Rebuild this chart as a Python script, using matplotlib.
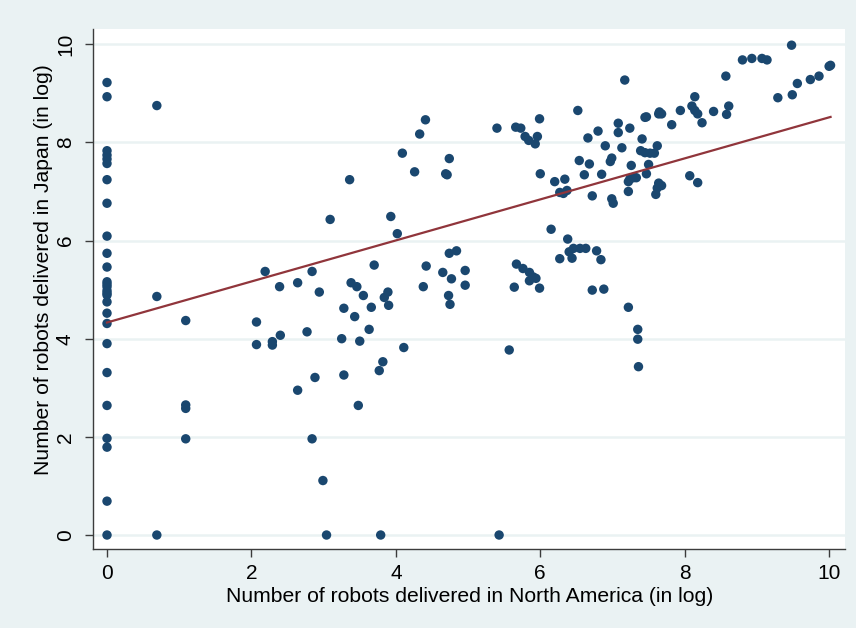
import matplotlib
matplotlib.use('Agg')
import matplotlib.pyplot as plt
import numpy as np

plt.rcParams['font.family'] = ['Liberation Sans', 'DejaVu Sans']

# log robots delivered: North America (x) vs Japan (y)
na_log = [
    0, 0, 0, 0, 0, 0, 0, 0, 0, 0, 0, 0, 0, 0, 0, 0, 0, 0, 0, 0, 0, 0, 0, 0, 0, 0, 0,
    0.69, 0.69, 0.69,
    1.09, 1.09, 1.09, 1.09,
    2.07, 2.07, 2.19, 2.39, 2.29, 2.29, 2.40, 2.64, 2.64, 2.77, 2.84, 2.84,
    2.94, 2.88, 2.99, 3.04, 3.09, 3.36, 3.28, 3.43, 3.25, 3.28, 3.50, 3.48,
    3.38, 3.46, 3.55, 3.66, 3.70, 3.84, 3.89, 3.90, 3.63, 3.93, 4.02, 4.09,
    4.11, 3.82, 3.77, 3.79, 4.26, 4.33, 4.41, 4.38, 4.42, 4.65, 4.69, 4.71,
    4.74, 4.77, 4.73, 4.75, 4.74, 4.84, 4.96, 4.96,
    5.40, 5.43, 5.57, 5.64, 5.66, 5.73, 5.67, 5.76, 5.85, 5.90, 5.94, 5.85,
    5.79, 5.84, 5.93, 5.96, 5.99, 5.99, 6.00, 6.15, 6.20, 6.34, 6.27, 6.32,
    6.37, 6.27, 6.38, 6.40, 6.44, 6.46, 6.55, 6.63, 6.52, 6.54, 6.66, 6.68,
    6.61, 6.72, 6.72, 6.80, 6.78, 6.84, 6.88, 6.85, 6.90, 6.97, 6.99, 6.99,
    7.01, 7.08, 7.08, 7.13, 7.17, 7.24, 7.26, 7.22, 7.24, 7.29, 7.33, 7.22,
    7.22, 7.35, 7.35, 7.36, 7.41, 7.39, 7.45, 7.52, 7.58, 7.62, 7.45, 7.47,
    7.50, 7.47, 7.64, 7.68, 7.65, 7.64, 7.68, 7.62, 7.60, 7.82, 7.94, 8.07,
    8.18, 8.10, 8.14, 8.18, 8.14, 8.24, 8.40, 8.58, 8.61, 8.57, 8.80, 8.93,
    9.07, 9.14, 9.29, 9.48, 9.49, 9.56, 9.74, 9.86, 10.0, 10.02,
]
jp_log = [
    9.22, 8.93, 7.83, 7.74, 7.66, 7.57, 7.24, 6.76, 6.09, 5.74, 5.46, 5.16,
    5.11, 5.06, 4.98, 4.93, 4.89, 4.75, 4.52, 4.31, 3.90, 3.31, 2.64, 1.97,
    1.79, 0.69, 0,
    8.75, 4.86, 0,
    4.37, 2.65, 2.58, 1.96,
    4.34, 3.88, 5.37, 5.06, 3.94, 3.87, 4.07, 5.14, 2.95, 4.14, 5.37, 1.96,
    4.95, 3.21, 1.11, 0, 6.43, 7.24, 4.62, 4.45, 4.00, 3.26, 3.95, 2.64,
    5.14, 5.06, 4.88, 4.64, 5.50, 4.84, 4.95, 4.68, 4.19, 6.49, 6.14, 7.78,
    3.82, 3.53, 3.35, 0, 7.40, 8.17, 8.46, 5.06, 5.48, 5.35, 7.36, 7.34,
    7.67, 5.22, 4.88, 4.70, 5.74, 5.79, 5.39, 5.09,
    8.29, 0, 3.77, 5.05, 8.31, 8.29, 5.52, 5.43, 5.35, 5.26, 5.23, 5.18,
    8.12, 8.04, 7.97, 8.12, 8.48, 5.03, 7.36, 6.23, 7.20, 7.25, 6.98, 6.96,
    7.02, 5.63, 6.03, 5.77, 5.64, 5.84, 5.84, 5.84, 8.65, 7.63, 8.09, 7.56,
    7.34, 6.91, 4.99, 8.23, 5.79, 5.61, 5.01, 7.35, 7.93, 7.61, 7.68, 6.85,
    6.76, 8.39, 8.20, 7.89, 9.27, 8.29, 7.53, 7.20, 7.25, 7.28, 7.28, 7.00,
    4.64, 4.19, 3.99, 3.43, 8.07, 7.83, 7.79, 7.78, 7.78, 7.93, 8.51, 8.52,
    7.55, 7.36, 8.58, 8.58, 8.62, 7.17, 7.12, 7.07, 6.94, 8.36, 8.65, 7.32,
    7.18, 8.74, 8.65, 8.58, 8.93, 8.40, 8.63, 8.57, 8.74, 9.35, 9.68, 9.71,
    9.71, 9.68, 8.91, 9.98, 8.97, 9.20, 9.28, 9.35, 9.55, 9.57,
]

# linear fit line (intercept, slope)
fit_coef = (4.33, 0.418)

x_ticks = [0, 2, 4, 6, 8, 10]
y_ticks = [0, 2, 4, 6, 8, 10]

bg = '#eaf2f3'
navy = '#1a476f'
maroon = '#90353b'
axis_grey = '#3c3c3c'

x = np.array(na_log)
y = np.array(jp_log)

fig = plt.figure(figsize=(8.56, 6.28), dpi=100, facecolor=bg)
ax = fig.add_axes([93 / 856, 1 - 549 / 628, 752 / 856, 520 / 628])
ax.set_facecolor('white')

ax.scatter(x, y, s=46, color=navy, edgecolors='none', zorder=3)

xs = np.array([x.min(), x.max()])
ax.plot(xs, fit_coef[0] + fit_coef[1] * xs, color=maroon, lw=1.6, zorder=4)

ax.set_xlim(-0.194, 10.22)
ax.set_ylim(-0.285, 10.31)
ax.set_xticks(x_ticks)
ax.set_yticks(y_ticks)
ax.grid(axis='y', color=bg, lw=1.8, zorder=0)
ax.set_axisbelow(True)

for side in ['top', 'right']:
    ax.spines[side].set_visible(False)
for side in ['left', 'bottom']:
    ax.spines[side].set_color(axis_grey)
    ax.spines[side].set_linewidth(1.0)

ax.tick_params(axis='both', direction='out', length=6, width=1.0,
               color=axis_grey, labelsize=15, labelcolor='black')
ax.tick_params(axis='x', pad=5)
ax.tick_params(axis='y', pad=7)
for lbl in ax.get_yticklabels():
    lbl.set_rotation(90)
    lbl.set_va('center')

fig.text(470 / 856, 1 - 597 / 628, 'Number of robots delivered in North America (in log)',
         ha='center', va='center', fontsize=15.2)
fig.text(44 / 856, 1 - 270 / 628, 'Number of robots delivered in Japan (in log)',
         ha='center', va='center', rotation=90, fontsize=15.2)

fig.savefig('out.png', dpi=100, facecolor=bg)
